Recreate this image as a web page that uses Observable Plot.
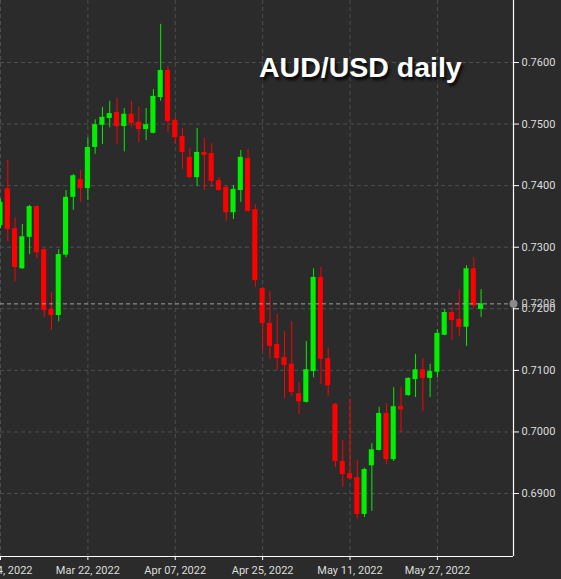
<!DOCTYPE html>
<html>
<head>
<meta charset="utf-8">
<script src="https://cdn.jsdelivr.net/npm/d3@7"></script>
<script src="https://cdn.jsdelivr.net/npm/@observablehq/plot@0.6"></script>
<style>
  html, body { margin: 0; padding: 0; background: #2a2b2a; }
  #wrap { position: relative; width: 561px; height: 579px; overflow: hidden; }
  #title { position: absolute; left: 259px; top: 51px; font: bold 28.5px "Liberation Sans", Arial, sans-serif; line-height: 32px; color: #ffffff; text-shadow: 2px 3px 3px rgba(0,0,0,0.85); white-space: nowrap; }
</style>
</head>
<body>
<div id="wrap"><div id="chart"></div><div id="title">AUD/USD daily</div></div>
<script>
const dates = [
  "2022-03-04",
  "2022-03-07","2022-03-08","2022-03-09","2022-03-10","2022-03-11",
  "2022-03-14","2022-03-15","2022-03-16","2022-03-17","2022-03-18",
  "2022-03-21","2022-03-22","2022-03-23","2022-03-24","2022-03-25",
  "2022-03-28","2022-03-29","2022-03-30","2022-03-31","2022-04-01",
  "2022-04-04","2022-04-05","2022-04-06","2022-04-07","2022-04-08",
  "2022-04-11","2022-04-12","2022-04-13","2022-04-14","2022-04-15",
  "2022-04-18","2022-04-19","2022-04-20","2022-04-21","2022-04-22",
  "2022-04-25","2022-04-26","2022-04-27","2022-04-28","2022-04-29",
  "2022-05-02","2022-05-03","2022-05-04","2022-05-05","2022-05-06",
  "2022-05-09","2022-05-10","2022-05-11","2022-05-12","2022-05-13",
  "2022-05-16","2022-05-17","2022-05-18","2022-05-19","2022-05-20",
  "2022-05-23","2022-05-24","2022-05-25","2022-05-26","2022-05-27",
  "2022-05-30","2022-05-31","2022-06-01","2022-06-02","2022-06-03",
  "2022-06-06"
];
const open = [
  0.7335,
  0.7395,0.7330,0.7265,0.7316,0.7366,
  0.7296,0.7199,0.7189,0.7287,0.7381,
  0.7410,0.7395,0.7462,0.7498,0.7509,
  0.7519,0.7496,0.7516,0.7503,0.7491,
  0.7485,0.7543,0.7587,0.7506,0.7480,
  0.7446,0.7413,0.7454,0.7452,0.7408,
  0.7397,0.7356,0.7392,0.7444,0.7361,
  0.7233,0.7176,0.7142,0.7121,0.7110,
  0.7062,0.7048,0.7098,0.7251,0.7119,
  0.7045,0.6952,0.6932,0.6926,0.6866,
  0.6945,0.6970,0.7030,0.6955,0.7041,
  0.7059,0.7085,0.7101,0.7087,0.7097,
  0.7157,0.7194,0.7183,0.7170,0.7265,
  0.7199
];
const high = [
  0.7378,
  0.7441,0.7348,0.7337,0.7368,0.7367,
  0.7298,0.7226,0.7296,0.7392,0.7418,
  0.7425,0.7478,0.7507,0.7527,0.7537,
  0.7542,0.7525,0.7537,0.7527,0.7525,
  0.7556,0.7662,0.7594,0.7512,0.7493,
  0.7460,0.7493,0.7477,0.7468,0.7413,
  0.7399,0.7400,0.7457,0.7459,0.7369,
  0.7235,0.7228,0.7191,0.7163,0.7179,
  0.7080,0.7147,0.7265,0.7267,0.7136,
  0.7046,0.6986,0.7053,0.6954,0.6941,
  0.6981,0.7040,0.7046,0.7072,0.7072,
  0.7088,0.7126,0.7119,0.7110,0.7166,
  0.7199,0.7202,0.7231,0.7270,0.7283,
  0.7231
];
const low = [
  0.7330,
  0.7309,0.7244,0.7264,0.7288,0.7282,
  0.7186,0.7165,0.7179,0.7283,0.7360,
  0.7373,0.7376,0.7451,0.7467,0.7494,
  0.7467,0.7455,0.7494,0.7470,0.7473,
  0.7484,0.7537,0.7486,0.7467,0.7426,
  0.7412,0.7399,0.7392,0.7397,0.7391,
  0.7342,0.7345,0.7373,0.7357,0.7235,
  0.7132,0.7118,0.7100,0.7054,0.7058,
  0.7028,0.7047,0.7088,0.7077,0.7058,
  0.6942,0.6910,0.6923,0.6858,0.6861,
  0.6871,0.6969,0.6947,0.6952,0.6999,
  0.7058,0.7056,0.7033,0.7056,0.7088,
  0.7156,0.7149,0.7155,0.7139,0.7200,
  0.7186
];
const close = [
  0.7373,
  0.7329,0.7267,0.7317,0.7366,0.7291,
  0.7197,0.7189,0.7288,0.7381,0.7416,
  0.7395,0.7462,0.7499,0.7511,0.7517,
  0.7496,0.7516,0.7501,0.7491,0.7499,
  0.7545,0.7587,0.7504,0.7478,0.7454,
  0.7413,0.7454,0.7449,0.7407,0.7392,
  0.7356,0.7394,0.7446,0.7358,0.7246,
  0.7176,0.7139,0.7119,0.7108,0.7064,
  0.7049,0.7101,0.7251,0.7118,0.7075,
  0.6952,0.6931,0.6924,0.6866,0.6939,
  0.6971,0.7030,0.6955,0.7041,0.7036,
  0.7087,0.7101,0.7087,0.7098,0.7160,
  0.7194,0.7181,0.7170,0.7265,0.7205,
  0.7208
];
const tickDates = ["2022-03-04","2022-03-22","2022-04-07","2022-04-25","2022-05-11","2022-05-27"];
const tickLabels = ["Mar 04, 2022","Mar 22, 2022","Apr 07, 2022","Apr 25, 2022","May 11, 2022","May 27, 2022"];
const yTicks = [0.69, 0.70, 0.71, 0.72, 0.73, 0.74, 0.75, 0.76];
const lastPrice = close[close.length - 1];

const candles = dates.map((d, i) => ({date: d, i, open: open[i], high: high[i], low: low[i], close: close[i]}));
const tickIdx = tickDates.map(d => dates.indexOf(d));
const labelOf = new Map(tickIdx.map((t, k) => [t, tickLabels[k]]));

const xDomain = [0, 70.45];
const yDomain = [0.67977, 0.77007];
const GREEN = "#00f000", RED = "#ff0000";
const col = d => d.close >= d.open ? GREEN : RED;
const FONT = 'Roboto, "Noto Sans", sans-serif';

const chart = Plot.plot({
  width: 561,
  height: 579,
  marginLeft: 0,
  marginRight: 48,
  marginTop: 0,
  marginBottom: 23,
  style: {background: "#2a2b2a", color: "#dddddd", fontFamily: FONT, fontSize: "11px"},
  x: {type: "linear", domain: xDomain, label: null},
  y: {domain: yDomain, label: null},
  marks: [
    Plot.gridX(tickIdx, {stroke: "#4e4e4e", strokeOpacity: 1, strokeDasharray: "4,3"}),
    Plot.gridY(yTicks, {stroke: "#4e4e4e", strokeOpacity: 1, strokeDasharray: "4,3"}),
    Plot.ruleX(candles, {x: "i", y1: "low", y2: "high", stroke: col, strokeWidth: 1}),
    Plot.rect(candles, {x1: d => d.i - 0.35, x2: d => d.i + 0.35, y1: "open", y2: "close", fill: col}),
    Plot.ruleY([lastPrice], {stroke: "#a0a0a0", strokeDasharray: "4,3", strokeWidth: 1}),
    Plot.ruleY([yDomain[0]], {stroke: "#ffffff", strokeWidth: 1.2}),
    Plot.ruleX([xDomain[1]], {stroke: "#ffffff", strokeWidth: 1.2}),
    Plot.axisX(tickIdx, {anchor: "bottom", tickSize: 4, tickPadding: 6, stroke: "#ffffff", fill: "#dddddd", tickFormat: t => labelOf.get(t), label: null}),
    Plot.axisY(yTicks, {anchor: "right", tickSize: 5, tickPadding: 3, stroke: "#ffffff", fill: "#dddddd", tickFormat: d3.format(".4f"), label: null}),
    Plot.dot([lastPrice], {x: () => xDomain[1], y: d => d, r: 4, fill: "#8a8a8a", stroke: "none"}),
    Plot.text([lastPrice], {x: () => xDomain[1], y: d => d, text: d => d.toFixed(4), dx: 8, textAnchor: "start", fill: "#c8c8c8", fontFamily: FONT, fontSize: 11})
  ]
});
document.getElementById("chart").appendChild(chart);
</script>
</body>
</html>
